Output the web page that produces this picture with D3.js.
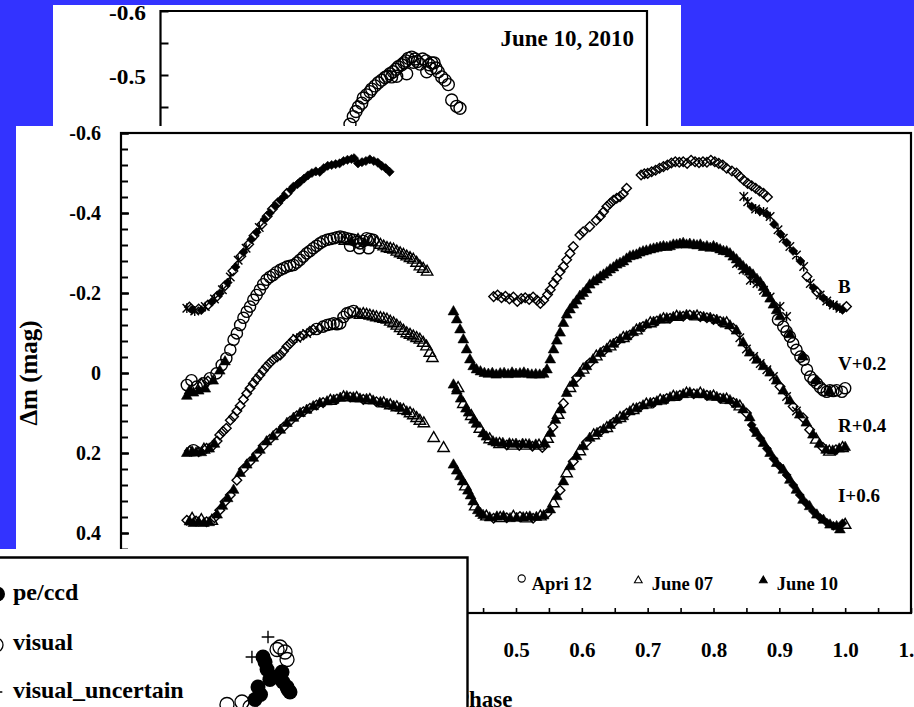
<!DOCTYPE html>
<html>
<head>
<meta charset="utf-8">
<script src="https://cdn.jsdelivr.net/npm/d3@7"></script>
<style>
  html, body { margin: 0; padding: 0; background: #3333ff; }
  svg { display: block; }
  text { font-family: "Liberation Serif", "Times New Roman", serif; font-weight: bold; fill: #000; }
</style>
</head>
<body>
<svg id="chart" width="914" height="707"></svg>
<script>
// ---------------------------------------------------------------
// Light curves: [phase, Δm, marker]  (o = Apri 12, t = June 07,
// T = June 10, d/D = open/filled diamond, x = asterisk)
// ---------------------------------------------------------------
const bandB = [
  [0.000,-0.162,'x'],[0.004,-0.165,'d'],[0.008,-0.158,'D'],[0.012,-0.155,'x'],[0.018,-0.160,'d'],[0.022,-0.157,'D'],
  [0.028,-0.166,'x'],[0.032,-0.170,'d'],[0.038,-0.178,'D'],[0.042,-0.185,'x'],[0.046,-0.192,'d'],[0.050,-0.199,'D'],
  [0.054,-0.208,'x'],[0.058,-0.218,'d'],[0.062,-0.226,'D'],[0.066,-0.240,'x'],[0.070,-0.255,'d'],[0.074,-0.265,'D'],
  [0.078,-0.282,'x'],[0.082,-0.292,'d'],[0.086,-0.302,'D'],[0.090,-0.312,'x'],[0.094,-0.322,'d'],[0.098,-0.334,'D'],
  [0.102,-0.343,'d'],[0.106,-0.352,'D'],[0.110,-0.364,'x'],[0.114,-0.372,'d'],[0.118,-0.384,'D'],[0.122,-0.392,'d'],
  [0.126,-0.400,'D'],[0.130,-0.410,'d'],[0.134,-0.418,'D'],[0.138,-0.425,'d'],[0.142,-0.432,'D'],[0.148,-0.442,'D'],
  [0.152,-0.449,'d'],[0.158,-0.458,'D'],[0.162,-0.466,'D'],[0.168,-0.472,'D'],[0.172,-0.478,'D'],[0.178,-0.486,'D'],
  [0.184,-0.494,'D'],[0.190,-0.500,'D'],[0.196,-0.504,'D'],[0.202,-0.503,'D'],[0.208,-0.512,'D'],[0.214,-0.518,'D'],
  [0.220,-0.520,'D'],[0.226,-0.522,'D'],[0.232,-0.524,'D'],[0.238,-0.530,'D'],[0.244,-0.533,'D'],[0.250,-0.535,'D'],
  [0.254,-0.537,'D'],[0.260,-0.524,'D'],[0.266,-0.527,'D'],[0.272,-0.530,'D'],[0.278,-0.534,'D'],[0.284,-0.530,'D'],
  [0.290,-0.526,'D'],[0.296,-0.518,'D'],[0.302,-0.512,'D'],[0.308,-0.503,'D'],
  [0.466,-0.191,'d'],[0.472,-0.195,'d'],[0.478,-0.188,'d'],[0.484,-0.192,'d'],[0.490,-0.185,'d'],[0.496,-0.190,'d'],
  [0.502,-0.179,'d'],[0.508,-0.186,'d'],[0.514,-0.188,'d'],[0.520,-0.184,'d'],[0.526,-0.190,'d'],[0.532,-0.182,'d'],
  [0.537,-0.174,'d'],[0.542,-0.182,'d'],[0.548,-0.196,'d'],[0.552,-0.208,'d'],[0.557,-0.224,'d'],[0.562,-0.237,'d'],
  [0.567,-0.253,'d'],[0.572,-0.266,'d'],[0.577,-0.283,'d'],[0.582,-0.299,'d'],[0.587,-0.316,'d'],[0.597,-0.345,'d'],
  [0.602,-0.353,'d'],[0.612,-0.366,'d'],[0.622,-0.382,'d'],[0.628,-0.392,'d'],[0.633,-0.403,'d'],[0.638,-0.416,'d'],
  [0.643,-0.424,'d'],[0.648,-0.432,'d'],[0.653,-0.437,'d'],[0.658,-0.441,'d'],[0.663,-0.448,'d'],[0.668,-0.462,'d'],
  [0.690,-0.495,'d'],[0.695,-0.498,'d'],[0.700,-0.499,'d'],[0.706,-0.503,'d'],[0.712,-0.507,'d'],[0.718,-0.512,'d'],
  [0.724,-0.516,'d'],[0.730,-0.520,'d'],[0.736,-0.525,'d'],[0.742,-0.528,'d'],[0.748,-0.527,'d'],[0.754,-0.528,'d'],
  [0.760,-0.524,'d'],[0.766,-0.532,'d'],[0.772,-0.528,'d'],[0.778,-0.526,'d'],[0.784,-0.528,'d'],[0.790,-0.527,'d'],
  [0.796,-0.532,'d'],[0.802,-0.528,'d'],[0.808,-0.524,'d'],[0.814,-0.520,'d'],[0.820,-0.512,'d'],[0.828,-0.505,'d'],
  [0.835,-0.500,'d'],[0.840,-0.491,'d'],[0.846,-0.482,'d'],[0.852,-0.474,'d'],[0.858,-0.468,'d'],[0.864,-0.462,'d'],
  [0.870,-0.455,'d'],[0.876,-0.449,'d'],[0.882,-0.440,'d'],
  [0.846,-0.441,'x'],[0.852,-0.428,'x'],[0.858,-0.416,'D'],[0.864,-0.410,'x'],[0.870,-0.405,'D'],[0.876,-0.403,'x'],
  [0.881,-0.397,'D'],[0.886,-0.391,'x'],[0.892,-0.372,'D'],[0.898,-0.358,'x'],[0.902,-0.347,'D'],[0.906,-0.337,'x'],
  [0.911,-0.326,'D'],[0.916,-0.316,'x'],[0.921,-0.305,'D'],[0.926,-0.295,'x'],[0.932,-0.280,'D'],[0.937,-0.266,'x'],
  [0.942,-0.241,'d'],[0.947,-0.224,'x'],[0.952,-0.213,'D'],[0.957,-0.203,'d'],[0.962,-0.195,'x'],[0.967,-0.187,'D'],
  [0.972,-0.180,'x'],[0.977,-0.174,'D'],[0.982,-0.170,'x'],[0.987,-0.166,'D'],[0.992,-0.162,'x'],[0.996,-0.158,'D'],
  [1.002,-0.166,'d']
];

const bandV = [
  [0.000,0.030,'o'],[0.000,0.058,'T'],[0.004,0.045,'T'],[0.007,0.018,'o'],[0.010,0.050,'T'],[0.015,0.034,'o'],
  [0.018,0.045,'T'],[0.022,0.030,'t'],[0.025,0.026,'o'],[0.028,0.040,'T'],[0.032,0.020,'d'],[0.035,0.013,'o'],
  [0.040,0.020,'T'],[0.045,0.001,'o'],[0.050,-0.005,'T'],[0.053,-0.020,'o'],[0.058,-0.028,'T'],[0.060,-0.037,'o'],
  [0.066,-0.058,'o'],[0.071,-0.083,'o'],[0.076,-0.099,'o'],[0.081,-0.120,'o'],[0.086,-0.138,'o'],[0.091,-0.153,'o'],
  [0.096,-0.166,'o'],[0.101,-0.183,'o'],[0.106,-0.195,'o'],[0.111,-0.208,'o'],[0.116,-0.222,'o'],[0.121,-0.233,'o'],
  [0.126,-0.240,'o'],[0.131,-0.245,'o'],[0.136,-0.252,'o'],[0.142,-0.258,'o'],[0.147,-0.262,'o'],[0.152,-0.266,'o'],
  [0.157,-0.268,'o'],[0.162,-0.270,'o'],[0.167,-0.276,'o'],[0.172,-0.283,'o'],[0.177,-0.291,'o'],[0.182,-0.299,'o'],
  [0.187,-0.305,'o'],[0.192,-0.312,'o'],[0.197,-0.318,'o'],[0.202,-0.324,'o'],[0.207,-0.329,'o'],[0.213,-0.333,'o'],
  [0.218,-0.335,'o'],[0.223,-0.337,'o'],[0.228,-0.339,'o'],[0.233,-0.341,'o'],[0.238,-0.339,'o'],[0.243,-0.337,'o'],
  [0.248,-0.335,'o'],[0.253,-0.333,'o'],[0.258,-0.328,'o'],[0.263,-0.324,'o'],[0.268,-0.330,'o'],[0.273,-0.337,'o'],
  [0.278,-0.335,'o'],[0.283,-0.333,'o'],[0.248,-0.318,'o'],[0.262,-0.312,'o'],[0.276,-0.312,'o'],
  [0.240,-0.330,'t'],[0.250,-0.328,'T'],[0.260,-0.332,'t'],[0.270,-0.326,'T'],[0.280,-0.328,'t'],
  [0.288,-0.326,'t'],[0.294,-0.320,'t'],[0.299,-0.316,'t'],[0.304,-0.312,'t'],[0.309,-0.310,'t'],[0.314,-0.308,'t'],
  [0.319,-0.303,'t'],[0.324,-0.299,'t'],[0.329,-0.295,'t'],[0.334,-0.291,'t'],[0.339,-0.287,'t'],[0.344,-0.283,'t'],
  [0.349,-0.275,'t'],[0.354,-0.266,'t'],[0.359,-0.260,'t'],[0.365,-0.253,'t'],
  [0.405,-0.153,'T'],[0.410,-0.133,'T'],[0.415,-0.108,'T'],[0.420,-0.083,'T'],[0.425,-0.058,'T'],[0.430,-0.033,'T'],
  [0.435,-0.016,'T'],[0.440,-0.008,'T'],[0.446,-0.003,'T'],[0.452,0.001,'T'],[0.458,0.003,'T'],[0.464,0.001,'T'],
  [0.470,0.005,'T'],[0.476,0.002,'T'],[0.482,0.001,'T'],[0.488,0.004,'T'],[0.494,0.000,'T'],[0.500,0.003,'T'],
  [0.506,0.002,'T'],[0.512,0.000,'T'],[0.518,0.003,'T'],[0.524,0.005,'T'],[0.530,0.004,'T'],[0.536,0.005,'T'],
  [0.542,0.003,'T'],[0.547,-0.008,'T'],[0.552,-0.033,'T'],[0.557,-0.058,'T'],[0.562,-0.080,'T'],[0.567,-0.100,'T'],
  [0.572,-0.124,'T'],[0.577,-0.145,'T'],[0.582,-0.158,'T'],[0.587,-0.170,'T'],[0.592,-0.180,'T'],[0.597,-0.192,'T'],
  [0.602,-0.199,'T'],[0.607,-0.208,'T'],[0.612,-0.220,'T'],[0.618,-0.228,'T'],[0.623,-0.233,'T'],[0.628,-0.240,'T'],
  [0.633,-0.245,'T'],[0.638,-0.251,'T'],[0.643,-0.258,'T'],[0.648,-0.263,'T'],[0.653,-0.270,'T'],[0.658,-0.274,'T'],
  [0.663,-0.278,'T'],[0.668,-0.285,'T'],[0.673,-0.291,'T'],[0.678,-0.293,'T'],[0.683,-0.295,'T'],[0.688,-0.300,'T'],
  [0.693,-0.303,'T'],[0.698,-0.305,'T'],[0.704,-0.308,'T'],[0.709,-0.310,'T'],[0.714,-0.312,'T'],[0.719,-0.314,'T'],
  [0.724,-0.316,'T'],[0.729,-0.314,'T'],[0.734,-0.316,'T'],[0.739,-0.320,'T'],[0.744,-0.320,'T'],[0.749,-0.322,'T'],
  [0.754,-0.324,'T'],[0.759,-0.320,'T'],[0.764,-0.322,'T'],[0.770,-0.320,'T'],[0.775,-0.318,'T'],[0.780,-0.320,'T'],
  [0.785,-0.314,'T'],[0.790,-0.316,'T'],[0.795,-0.312,'T'],[0.800,-0.316,'T'],[0.805,-0.312,'T'],[0.810,-0.308,'T'],
  [0.815,-0.304,'T'],[0.820,-0.303,'T'],[0.825,-0.298,'T'],[0.830,-0.290,'T'],[0.835,-0.283,'T'],[0.840,-0.274,'T'],
  [0.845,-0.266,'T'],[0.850,-0.258,'T'],[0.855,-0.252,'T'],[0.860,-0.245,'T'],[0.866,-0.234,'T'],[0.871,-0.226,'T'],
  [0.876,-0.214,'T'],[0.881,-0.199,'T'],[0.886,-0.185,'T'],[0.891,-0.170,'T'],[0.896,-0.156,'T'],[0.901,-0.141,'T'],
  [0.835,-0.274,'x'],[0.845,-0.258,'x'],[0.856,-0.232,'x'],[0.866,-0.224,'x'],[0.876,-0.207,'x'],[0.886,-0.190,'x'],
  [0.901,-0.166,'x'],[0.911,-0.141,'x'],
  [0.898,-0.133,'o'],[0.906,-0.116,'o'],[0.911,-0.104,'o'],[0.916,-0.091,'o'],[0.921,-0.074,'o'],[0.926,-0.058,'o'],
  [0.932,-0.041,'o'],[0.937,-0.033,'o'],[0.942,-0.008,'o'],[0.947,0.009,'o'],[0.952,0.018,'o'],[0.957,0.026,'o'],
  [0.962,0.036,'o'],[0.967,0.043,'o'],[0.972,0.047,'o'],[0.977,0.043,'o'],[0.982,0.045,'o'],[0.987,0.043,'o'],
  [0.995,0.047,'o'],[1.000,0.038,'o'],[0.916,-0.096,'T'],[0.936,-0.040,'T'],[0.956,0.020,'T'],[0.976,0.046,'T']
];

const bandR = [
  [0.000,0.201,'T'],[0.004,0.195,'d'],[0.008,0.197,'T'],[0.010,0.193,'o'],[0.014,0.200,'T'],[0.018,0.197,'d'],
  [0.022,0.199,'T'],[0.026,0.192,'t'],[0.030,0.188,'d'],[0.034,0.190,'T'],[0.038,0.184,'d'],[0.042,0.178,'T'],
  [0.046,0.170,'d'],[0.050,0.155,'d'],[0.055,0.146,'d'],[0.060,0.138,'d'],[0.066,0.118,'d'],[0.071,0.109,'d'],
  [0.076,0.095,'d'],[0.081,0.082,'d'],[0.086,0.066,'d'],[0.091,0.051,'d'],[0.096,0.038,'d'],[0.101,0.026,'d'],
  [0.106,0.015,'d'],[0.111,0.005,'d'],[0.116,-0.006,'d'],[0.121,-0.016,'d'],[0.126,-0.025,'d'],[0.131,-0.033,'d'],
  [0.137,-0.040,'d'],[0.142,-0.045,'d'],[0.147,-0.055,'d'],[0.152,-0.066,'d'],[0.157,-0.074,'d'],[0.162,-0.083,'d'],
  [0.167,-0.087,'x'],[0.172,-0.091,'d'],[0.177,-0.095,'d'],[0.182,-0.099,'x'],[0.187,-0.104,'d'],[0.192,-0.108,'d'],
  [0.197,-0.110,'o'],[0.202,-0.112,'d'],[0.207,-0.116,'o'],[0.213,-0.120,'o'],[0.218,-0.122,'o'],[0.223,-0.124,'o'],
  [0.228,-0.122,'o'],[0.233,-0.124,'o'],[0.238,-0.140,'o'],[0.243,-0.149,'o'],[0.248,-0.152,'o'],[0.253,-0.155,'o'],
  [0.258,-0.150,'t'],[0.263,-0.145,'t'],[0.268,-0.147,'t'],[0.273,-0.145,'t'],[0.278,-0.143,'t'],[0.283,-0.141,'t'],
  [0.288,-0.139,'t'],[0.294,-0.137,'t'],[0.299,-0.135,'t'],[0.304,-0.133,'t'],[0.309,-0.128,'t'],[0.314,-0.124,'t'],
  [0.319,-0.118,'t'],[0.324,-0.112,'t'],[0.329,-0.105,'t'],[0.334,-0.099,'t'],[0.339,-0.095,'t'],[0.344,-0.091,'t'],
  [0.349,-0.087,'t'],[0.354,-0.083,'t'],[0.359,-0.075,'t'],[0.364,-0.066,'t'],[0.369,-0.050,'t'],[0.373,-0.037,'t'],
  [0.405,0.030,'T'],[0.410,0.045,'T'],[0.412,0.038,'t'],[0.416,0.065,'T'],[0.420,0.078,'t'],[0.424,0.090,'T'],
  [0.428,0.100,'T'],[0.432,0.108,'t'],[0.436,0.118,'T'],[0.440,0.128,'T'],[0.445,0.140,'t'],[0.450,0.152,'T'],
  [0.455,0.160,'T'],[0.460,0.166,'t'],[0.465,0.172,'T'],[0.470,0.175,'T'],[0.475,0.178,'t'],[0.480,0.176,'T'],
  [0.486,0.180,'d'],[0.490,0.177,'T'],[0.495,0.182,'t'],[0.500,0.178,'T'],[0.505,0.181,'d'],[0.510,0.178,'T'],
  [0.515,0.182,'t'],[0.520,0.179,'T'],[0.525,0.183,'d'],[0.530,0.180,'T'],[0.535,0.182,'t'],[0.540,0.186,'d'],
  [0.544,0.178,'T'],[0.548,0.165,'t'],[0.552,0.151,'T'],[0.556,0.135,'d'],[0.560,0.118,'T'],[0.564,0.105,'t'],
  [0.568,0.092,'T'],[0.572,0.076,'d'],[0.577,0.051,'T'],[0.582,0.038,'t'],[0.587,0.026,'T'],[0.592,0.012,'d'],
  [0.597,0.001,'T'],[0.602,-0.008,'t'],[0.607,-0.016,'T'],[0.612,-0.025,'d'],[0.617,-0.033,'T'],[0.622,-0.041,'t'],
  [0.628,-0.049,'T'],[0.633,-0.055,'d'],[0.638,-0.060,'T'],[0.643,-0.066,'t'],[0.648,-0.072,'T'],[0.653,-0.078,'d'],
  [0.658,-0.083,'T'],[0.663,-0.087,'t'],[0.668,-0.091,'T'],[0.673,-0.095,'d'],[0.678,-0.101,'T'],[0.683,-0.106,'t'],
  [0.688,-0.112,'T'],[0.693,-0.116,'d'],[0.698,-0.120,'T'],[0.704,-0.124,'t'],[0.709,-0.127,'T'],[0.714,-0.130,'d'],
  [0.719,-0.133,'T'],[0.724,-0.134,'t'],[0.729,-0.136,'T'],[0.734,-0.137,'d'],[0.739,-0.139,'T'],[0.744,-0.140,'t'],
  [0.749,-0.141,'T'],[0.754,-0.142,'d'],[0.759,-0.144,'T'],[0.764,-0.145,'d'],[0.770,-0.142,'T'],[0.775,-0.141,'t'],
  [0.780,-0.141,'d'],[0.785,-0.139,'T'],[0.790,-0.138,'d'],[0.795,-0.137,'T'],[0.800,-0.134,'d'],[0.805,-0.132,'T'],
  [0.810,-0.129,'d'],[0.815,-0.126,'T'],[0.820,-0.124,'t'],[0.825,-0.118,'T'],[0.830,-0.112,'d'],[0.835,-0.105,'T'],
  [0.840,-0.088,'x'],[0.845,-0.075,'T'],[0.850,-0.060,'x'],[0.855,-0.050,'T'],[0.861,-0.041,'x'],[0.866,-0.032,'T'],
  [0.871,-0.024,'x'],[0.876,-0.016,'T'],[0.881,-0.008,'x'],[0.886,0.000,'T'],[0.891,0.009,'x'],[0.896,0.020,'T'],
  [0.901,0.034,'d'],[0.906,0.045,'T'],[0.911,0.059,'x'],[0.916,0.070,'T'],[0.921,0.084,'d'],[0.926,0.095,'x'],
  [0.931,0.105,'T'],[0.936,0.112,'d'],[0.941,0.125,'T'],[0.946,0.142,'d'],[0.951,0.155,'T'],[0.956,0.167,'t'],
  [0.961,0.178,'T'],[0.966,0.186,'d'],[0.971,0.193,'T'],[0.976,0.197,'t'],[0.981,0.195,'T'],[0.986,0.192,'d'],
  [0.991,0.190,'T'],[0.996,0.188,'t'],[1.000,0.186,'T']
];

const bandI = [
  [0.000,0.368,'d'],[0.004,0.372,'T'],[0.008,0.365,'t'],[0.010,0.376,'T'],[0.014,0.370,'d'],[0.018,0.374,'T'],
  [0.022,0.368,'t'],[0.026,0.376,'T'],[0.030,0.372,'d'],[0.034,0.374,'T'],[0.038,0.370,'t'],[0.042,0.362,'d'],
  [0.046,0.355,'T'],[0.050,0.343,'d'],[0.054,0.333,'T'],[0.058,0.322,'d'],[0.062,0.314,'T'],[0.066,0.305,'d'],
  [0.071,0.293,'T'],[0.076,0.268,'d'],[0.081,0.251,'T'],[0.086,0.240,'d'],[0.091,0.230,'T'],[0.096,0.222,'d'],
  [0.101,0.213,'T'],[0.106,0.203,'d'],[0.111,0.193,'T'],[0.116,0.182,'d'],[0.121,0.172,'T'],[0.126,0.166,'d'],
  [0.131,0.159,'T'],[0.136,0.151,'d'],[0.142,0.143,'T'],[0.147,0.135,'d'],[0.152,0.126,'T'],[0.157,0.120,'d'],
  [0.162,0.113,'T'],[0.167,0.107,'d'],[0.172,0.101,'T'],[0.177,0.097,'d'],[0.182,0.093,'T'],[0.187,0.088,'d'],
  [0.192,0.084,'T'],[0.197,0.080,'d'],[0.202,0.076,'T'],[0.207,0.074,'d'],[0.213,0.072,'T'],[0.218,0.070,'t'],
  [0.223,0.068,'T'],[0.228,0.065,'d'],[0.233,0.063,'T'],[0.238,0.061,'t'],[0.243,0.059,'T'],[0.248,0.060,'d'],
  [0.253,0.062,'T'],[0.258,0.063,'t'],[0.263,0.065,'T'],[0.268,0.066,'d'],[0.273,0.066,'T'],[0.278,0.068,'t'],
  [0.283,0.070,'T'],[0.288,0.072,'d'],[0.294,0.074,'T'],[0.299,0.076,'t'],[0.304,0.078,'T'],[0.309,0.081,'t'],
  [0.314,0.083,'T'],[0.319,0.086,'t'],[0.324,0.088,'T'],[0.329,0.093,'t'],[0.334,0.097,'T'],[0.339,0.101,'t'],
  [0.344,0.106,'t'],[0.349,0.113,'t'],[0.354,0.120,'t'],[0.360,0.126,'t'],[0.375,0.163,'t'],[0.390,0.188,'t'],
  [0.405,0.230,'T'],[0.410,0.245,'T'],[0.415,0.259,'T'],[0.419,0.272,'T'],[0.423,0.284,'t'],[0.427,0.295,'T'],
  [0.431,0.307,'T'],[0.435,0.322,'T'],[0.438,0.334,'t'],[0.442,0.344,'T'],[0.446,0.351,'T'],[0.450,0.356,'T'],
  [0.455,0.359,'t'],[0.460,0.362,'T'],[0.466,0.363,'d'],[0.471,0.360,'T'],[0.476,0.363,'t'],[0.481,0.359,'T'],
  [0.486,0.362,'d'],[0.491,0.364,'T'],[0.496,0.360,'t'],[0.501,0.363,'T'],[0.506,0.359,'d'],[0.511,0.362,'T'],
  [0.516,0.364,'t'],[0.521,0.360,'T'],[0.526,0.363,'d'],[0.531,0.361,'T'],[0.537,0.359,'t'],[0.542,0.357,'T'],
  [0.547,0.352,'d'],[0.552,0.342,'T'],[0.557,0.326,'t'],[0.562,0.309,'T'],[0.567,0.293,'d'],[0.572,0.272,'T'],
  [0.577,0.251,'t'],[0.582,0.234,'T'],[0.587,0.221,'d'],[0.592,0.209,'T'],[0.597,0.196,'t'],[0.602,0.184,'T'],
  [0.607,0.173,'d'],[0.612,0.163,'T'],[0.618,0.156,'t'],[0.623,0.151,'T'],[0.628,0.146,'d'],[0.633,0.142,'T'],
  [0.638,0.138,'t'],[0.643,0.131,'T'],[0.648,0.124,'d'],[0.653,0.118,'T'],[0.658,0.113,'t'],[0.663,0.109,'T'],
  [0.668,0.101,'d'],[0.673,0.097,'T'],[0.678,0.093,'t'],[0.683,0.089,'T'],[0.688,0.085,'d'],[0.693,0.082,'T'],
  [0.698,0.079,'t'],[0.704,0.076,'T'],[0.709,0.074,'d'],[0.714,0.072,'T'],[0.719,0.069,'t'],[0.724,0.068,'T'],
  [0.729,0.064,'d'],[0.734,0.062,'T'],[0.739,0.060,'t'],[0.744,0.059,'T'],[0.749,0.056,'d'],[0.754,0.054,'T'],
  [0.759,0.052,'t'],[0.764,0.050,'T'],[0.770,0.052,'d'],[0.775,0.054,'T'],[0.780,0.052,'t'],[0.785,0.054,'T'],
  [0.790,0.056,'d'],[0.795,0.058,'T'],[0.800,0.059,'t'],[0.805,0.061,'T'],[0.810,0.063,'d'],[0.815,0.065,'T'],
  [0.820,0.067,'t'],[0.825,0.069,'T'],[0.830,0.074,'d'],[0.835,0.078,'T'],[0.840,0.084,'t'],[0.845,0.092,'T'],
  [0.850,0.100,'d'],[0.855,0.112,'T'],[0.858,0.130,'D'],[0.861,0.142,'D'],[0.866,0.151,'T'],[0.871,0.163,'D'],
  [0.876,0.176,'T'],[0.881,0.189,'D'],[0.886,0.201,'T'],[0.891,0.214,'D'],[0.896,0.226,'T'],[0.901,0.234,'D'],
  [0.906,0.243,'T'],[0.911,0.255,'D'],[0.916,0.268,'T'],[0.921,0.280,'D'],[0.926,0.293,'T'],[0.931,0.305,'D'],
  [0.936,0.318,'T'],[0.941,0.326,'D'],[0.946,0.334,'T'],[0.951,0.345,'D'],[0.957,0.355,'T'],[0.962,0.362,'D'],
  [0.967,0.368,'T'],[0.972,0.374,'D'],[0.977,0.380,'T'],[0.982,0.382,'D'],[0.987,0.384,'T'],[0.992,0.392,'T'],
  [0.996,0.376,'D'],[1.000,0.380,'t']
];

const curveLabels = ["B", "V+0.2", "R+0.4", "I+0.6"];
const legendNights = [["o", "Apri 12"], ["t", "June 07"], ["T", "June 10"]];
const yTickLabels = [-0.6, -0.4, -0.2, 0, 0.2, 0.4];
const xTickLabels = [0.5, 0.6, 0.7, 0.8, 0.9, 1.0, 1.1];

// Earlier night, June 10, 2010: [phase, Δm]
const june2010 = [
  [0.3895,-0.423],[0.3963,-0.435],[0.4018,-0.443],[0.4066,-0.450],[0.4136,-0.456],[0.4168,-0.464],
  [0.4238,-0.469],[0.4306,-0.474],[0.4341,-0.478],[0.4409,-0.483],[0.4477,-0.488],[0.4547,-0.492],
  [0.4615,-0.496],[0.4662,-0.498],[0.4717,-0.502],[0.4785,-0.505],[0.4841,-0.509],[0.4888,-0.513],
  [0.4958,-0.516],[0.5005,-0.519],[0.5046,-0.522],[0.5094,-0.526],[0.5163,-0.528],[0.5231,-0.525],
  [0.5278,-0.521],[0.5334,-0.517],[0.5389,-0.525],[0.5457,-0.522],[0.5525,-0.516],[0.5574,-0.519],
  [0.5622,-0.519],[0.5663,-0.511],[0.5710,-0.505],[0.5780,-0.497],[0.5848,-0.492],[0.5916,-0.485],
  [0.5986,-0.461],[0.6088,-0.451],[0.6156,-0.448],[0.5060,-0.502],[0.4855,-0.498],[0.5196,-0.520],
  [0.5472,-0.505],[0.4750,-0.497],[0.5560,-0.510]
];
const june2010Ticks = [-0.6, -0.5];

// Timing residuals: [cycle, O–C]
const ocPeCcd = [
  [16860,-0.020],[17120,-0.025],[18080,-0.026],[18400,-0.032],[18590,-0.034],[16540,-0.032],
  [16350,-0.037],[17760,-0.028],[18140,-0.030],[18460,-0.033],[16990,-0.022],[17300,-0.029],[16700,-0.035]
];
const ocVisual = [
  [17950,-0.016],[18270,-0.018],[18400,-0.021],[17760,-0.017],[14550,-0.039],[15510,-0.038],[16030,-0.040]
];
const ocVisualUncertain = [[17180,-0.012],[16150,-0.020]];
const ocLegend = ["pe/ccd", "visual", "visual_uncertain"];

// ---------------------------------------------------------------
const svg = d3.select("#chart");
svg.append("rect").attr("width", 914).attr("height", 707).attr("fill", "#3333ff");

// marker shapes
const diamondType = { draw(ctx, size) { const r = Math.sqrt(size / 2); ctx.moveTo(0, -r); ctx.lineTo(r, 0); ctx.lineTo(0, r); ctx.lineTo(-r, 0); ctx.closePath(); } };
const asteriskType = { draw(ctx, size) { const r = Math.sqrt(size) / 2; ctx.moveTo(-r, -r); ctx.lineTo(r, r); ctx.moveTo(r, -r); ctx.lineTo(-r, r); ctx.moveTo(0, -r * 1.15); ctx.lineTo(0, r * 1.15); } };
const plusType = { draw(ctx, size) { const r = Math.sqrt(size) / 2; ctx.moveTo(-r, 0); ctx.lineTo(r, 0); ctx.moveTo(0, -r); ctx.lineTo(0, r); } };
const markerStyle = {
  o: { path: d3.symbol(d3.symbolCircle, Math.PI * 5.6 * 5.6)(), fill: "none" },
  t: { path: d3.symbol(d3.symbolTriangle, 56)(), fill: "none" },
  T: { path: d3.symbol(d3.symbolTriangle, 50)(), fill: "#000" },
  d: { path: d3.symbol(diamondType, 46)(), fill: "none" },
  D: { path: d3.symbol(diamondType, 42)(), fill: "#000" },
  x: { path: d3.symbol(asteriskType, 72)(), fill: "none" }
};
function drawMarks(g, data, xs, ys) {
  g.selectAll(null).data(data).join("path")
    .attr("d", d => markerStyle[d[2]].path)
    .attr("transform", d => `translate(${xs(d[0])},${ys(d[1])})`)
    .attr("fill", d => markerStyle[d[2]].fill)
    .attr("stroke", "#000")
    .attr("stroke-width", d => markerStyle[d[2]].fill === "none" ? 1.4 : 0.6);
}

// ---------------- June 10, 2010 panel (back) ----------------
const pA = svg.append("g");
pA.append("rect").attr("x", 53).attr("y", 5).attr("width", 628).attr("height", 200).attr("fill", "#fff");
const xA = d3.scaleLinear().domain([0, 1]).range([160.5, 647]);
const yA = d3.scaleLinear().domain([-0.6, -0.4]).range([11, 139]);
pA.append("path").attr("d", `M${xA(0)},${yA(-0.4)}V${yA(-0.6)}H${xA(1)}V${yA(-0.4)}`)
  .attr("fill", "none").attr("stroke", "#000").attr("stroke-width", 2.2);
pA.append("g").attr("transform", `translate(${xA(0)},0)`)
  .call(d3.axisLeft(yA).tickValues([-0.6, -0.55, -0.5, -0.45, -0.4]).tickSize(-8).tickFormat(""))
  .call(g => g.select(".domain").remove())
  .call(g => g.selectAll("line").attr("stroke", "#000").attr("stroke-width", 2));
pA.append("g").selectAll("text").data(june2010Ticks).join("text")
  .attr("x", 146).attr("y", d => yA(d) + 9)
  .attr("text-anchor", "end").attr("font-size", 20)
  .attr("textLength", 37).attr("lengthAdjust", "spacingAndGlyphs")
  .text(d => d.toFixed(1));
pA.append("text").attr("x", 634).attr("y", 46).attr("text-anchor", "end").attr("font-size", 23)
  .text("June 10, 2010");
const circleA = d3.symbol(d3.symbolCircle, Math.PI * 6 * 6)();
pA.append("g").selectAll("path").data(june2010).join("path")
  .attr("d", circleA)
  .attr("transform", d => `translate(${xA(d[0])},${yA(d[1])})`)
  .attr("fill", "none").attr("stroke", "#000").attr("stroke-width", 1.4);

// ---------------- main light-curve panel ----------------
const pB = svg.append("g");
pB.append("rect").attr("x", 16).attr("y", 126).attr("width", 898).attr("height", 581).attr("fill", "#fff");
const x = d3.scaleLinear().domain([-0.1, 1.1]).range([121, 911]);
const y = d3.scaleLinear().domain([-0.6, 0.6]).range([133, 613]);

// ticks
const minorY = d3.range(-15, 16).map(i => +(i * 0.04).toFixed(2));
pB.append("g").attr("transform", `translate(${x(-0.1)},0)`)
  .call(d3.axisLeft(y).tickValues(minorY).tickSize(-7).tickFormat(""))
  .call(g => g.select(".domain").remove())
  .call(g => g.selectAll("line").attr("stroke", "#000").attr("stroke-width", 2));
pB.append("g").attr("transform", `translate(${x(-0.1)},0)`)
  .call(d3.axisLeft(y).tickValues(yTickLabels).tickSize(-8).tickPadding(20)
    .tickFormat(d => d === 0 ? "0" : d.toFixed(1)))
  .call(g => g.select(".domain").remove())
  .call(g => g.selectAll("line").attr("stroke", "#000").attr("stroke-width", 2.2))
  .call(g => g.selectAll("text").attr("font-size", 20).attr("font-family", null));
const minorX = d3.range(-2, 23).map(i => +(i * 0.05).toFixed(2));
pB.append("g").attr("transform", `translate(0,${y(0.6)})`)
  .call(d3.axisBottom(x).tickValues(minorX).tickSize(-5).tickFormat(""))
  .call(g => g.select(".domain").remove())
  .call(g => g.selectAll("line").attr("stroke", "#000").attr("stroke-width", 1.6));
pB.append("g").attr("transform", `translate(0,${y(0.6)})`)
  .call(d3.axisBottom(x).tickValues(xTickLabels).tickSize(0).tickPadding(29).tickFormat(d => d.toFixed(1)))
  .call(g => g.select(".domain").remove())
  .call(g => g.selectAll("text").attr("font-size", 21).attr("font-family", null));

// frame
pB.append("rect").attr("x", x(-0.1)).attr("y", y(-0.6))
  .attr("width", x(1.1) - x(-0.1)).attr("height", y(0.6) - y(-0.6))
  .attr("fill", "none").attr("stroke", "#000").attr("stroke-width", 2.2);

// data
[bandB, bandV, bandR, bandI].forEach(band => drawMarks(pB.append("g"), band, x, y));

// curve labels
const labelMag = [-0.2, -0.0075, 0.1475, 0.3225];
pB.append("g").selectAll("text").data(curveLabels).join("text")
  .attr("x", x(0.989)).attr("y", (d, i) => y(labelMag[i]))
  .attr("font-size", 19).text(d => d);

// night legend
const legX = [521.7, 638.3, 763.3];
const legG = pB.append("g");
legendNights.forEach(([m, name], i) => {
  const path = m === "o" ? d3.symbol(d3.symbolCircle, Math.PI * 3.6 * 3.6)()
             : d3.symbol(d3.symbolTriangle, 26)();
  legG.append("path").attr("d", path)
    .attr("transform", `translate(${legX[i]},${m === "o" ? 578.5 : 580.5})`)
    .attr("fill", m === "T" ? "#000" : "none").attr("stroke", "#000").attr("stroke-width", 1.1);
  legG.append("text").attr("x", legX[i] + (m === "o" ? 10 : 13.5)).attr("y", 590)
    .attr("font-size", 18.5).text(name);
});

// axis titles
pB.append("text").attr("transform", `translate(37,${y(0)}) rotate(-90)`)
  .attr("text-anchor", "middle").attr("font-size", 25).text("Δm (mag)");
pB.append("text").attr("x", 455).attr("y", 707).attr("font-size", 23).text("Phase");

// ---------------- O–C panel (front) ----------------
const pC = svg.append("g");
pC.append("rect").attr("x", 0).attr("y", 549).attr("width", 468).attr("height", 158).attr("fill", "#fff");
pC.append("path").attr("d", "M0,557.5H467.5V707").attr("fill", "none").attr("stroke", "#000").attr("stroke-width", 2.4);
const xC = d3.scaleLinear().domain([0, 30000]).range([0, 468]);
const yC = d3.scaleLinear().domain([-0.04, 0.02]).range([707, 557]);
pC.append("g").selectAll("circle").data(ocPeCcd).join("circle")
  .attr("cx", d => xC(d[0])).attr("cy", d => yC(d[1])).attr("r", 7.5).attr("fill", "#000");
pC.append("g").selectAll("circle").data(ocVisual).join("circle")
  .attr("cx", d => xC(d[0])).attr("cy", d => yC(d[1])).attr("r", 7)
  .attr("fill", "none").attr("stroke", "#000").attr("stroke-width", 1.3);
pC.append("g").selectAll("path").data(ocVisualUncertain).join("path")
  .attr("d", d3.symbol(plusType, 160)())
  .attr("transform", d => `translate(${xC(d[0])},${yC(d[1])})`)
  .attr("stroke", "#000").attr("stroke-width", 1.4).attr("fill", "none");

// legend
const ocLegY = [600, 650, 698];
pC.append("circle").attr("cx", -2.5).attr("cy", 594).attr("r", 7.5).attr("fill", "#000");
pC.append("circle").attr("cx", -4).attr("cy", 645).attr("r", 7).attr("fill", "none").attr("stroke", "#000").attr("stroke-width", 1.3);
pC.append("path").attr("d", d3.symbol(plusType, 160)()).attr("transform", "translate(-4,692)")
  .attr("stroke", "#000").attr("stroke-width", 1.4);
pC.append("g").selectAll("text").data(ocLegend).join("text")
  .attr("x", 13).attr("y", (d, i) => ocLegY[i]).attr("font-size", 24).text(d => d);
</script>
</body>
</html>
